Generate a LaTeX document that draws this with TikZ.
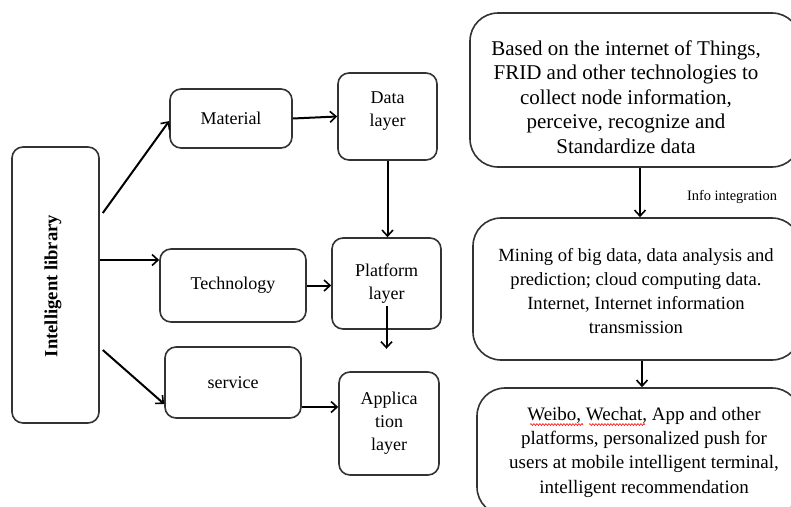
\documentclass[tikz,border=0pt]{standalone}
\usepackage{fontspec}
\setmainfont{Liberation Serif}
\usetikzlibrary{arrows.meta,decorations.pathmorphing}
\begin{document}
\begin{tikzpicture}[x=1pt,y=-1pt,
  box/.style={draw=black!80,line width=1.6pt,rounded corners=11pt,inner sep=0pt,align=center,
    font=\fontsize{18}{23}\selectfont},
  bigbox/.style={draw=black!80,line width=1.6pt,rounded corners=28pt,inner sep=0pt},
  txt/.style={align=center,inner sep=0pt},
  arr/.style={draw=black,line width=2pt,-{Straight Barb[length=6pt,width=11pt,line width=1.6pt]}}]
\clip (0,0) rectangle (791,506);
\fill[white] (0,0) rectangle (791,506);
% left column
\node[box,minimum width=87pt,minimum height=276pt] (lib) at (55.5,285) {};
\node[rotate=90,inner sep=0pt,font=\fontsize{18.6}{22}\selectfont\bfseries] (libt) at (53,286) {Intelligent library};
\node[box,minimum width=122pt,minimum height=59pt] (mat) at (231,118.5) {Material};
\node[box,minimum width=146pt,minimum height=73pt] (tech) at (233,285.5) {Technology};
\node[box,minimum width=136pt,minimum height=71pt] (serv) at (233,382.5) {service};
% layers
\node[box,minimum width=99pt,minimum height=87pt] (data) at (387.5,116.5) {};
\node[txt,font=\fontsize{18}{23}\selectfont] (datat) at (387.5,111.5) {Data\\layer};
\node[box,minimum width=109pt,minimum height=91pt] (plat) at (386.5,283.5) {Platform\\layer};
\node[box,minimum width=100pt,minimum height=103pt] (app) at (389,423.5) {Applica\\tion\\layer};
% right column
\node[bigbox,minimum width=330pt,minimum height=154pt] (r1) at (635,90) {};
\node[txt,font=\fontsize{21}{24.5}\selectfont] (r1t) at (626,97) {Based on the internet of Things,\\FRID and other technologies to\\collect node information,\\perceive, recognize and\\Standardize data};
\node[bigbox,minimum width=327pt,minimum height=142pt] (r2) at (636.5,289) {};
\node[txt,font=\fontsize{18.6}{23.8}\selectfont] (r2t) at (636,291) {Mining of big data, data analysis and\\prediction; cloud computing data.\\Internet, Internet information\\transmission};
\node[bigbox,minimum width=323pt,minimum height=127pt] (r3) at (638.5,451.5) {};
\node[txt,font=\fontsize{19}{24.3}\selectfont] (r3t) at (644,452) {Weibo, Wechat, App and other\\platforms, personalized push for\\users at mobile intelligent terminal,\\intelligent recommendation};
\node[inner sep=0pt,font=\fontsize{14.4}{17}\selectfont] (info) at (732,197) {Info integration};
% connectors
\draw[arr] ([yshift=72pt,xshift=3pt]lib.east) -- ([yshift=-2.5pt]mat.west);
\draw[arr] ([yshift=25pt]lib.east) -- (tech.west |- 0,260);
\draw[arr] ([yshift=-65pt,xshift=3pt]lib.east) -- ([yshift=-21.5pt]serv.west);
\draw[arr] (mat.east) -- (data.west);
\draw[arr] (tech.east) -- (tech.east -| plat.west);
\draw[arr] ([yshift=-24.5pt]serv.east) -- ([yshift=-24.5pt]serv.east -| app.west);
\draw[arr] (data.south) -- (data.south |- plat.north);
\coordinate (pend) at ([yshift=-19pt]plat.south);
\draw[arr] ([yshift=24pt]plat.south) -- (pend);
\draw[arr] ([xshift=5pt]r1.south) -- ([xshift=5pt]r1.south |- r2.north);
\draw[arr] ([xshift=5.5pt]r2.south) -- ([xshift=5.5pt]r2.south |- r3.north);
% spell-check underlines
\draw[red,line width=0.6pt,decorate,decoration={snake,amplitude=0.9pt,segment length=3pt}] (530,424.5) -- (583,424.5);
\draw[red,line width=0.6pt,decorate,decoration={snake,amplitude=0.9pt,segment length=3pt}] (589,424.5) -- (645,424.5);
\end{tikzpicture}
\end{document}
